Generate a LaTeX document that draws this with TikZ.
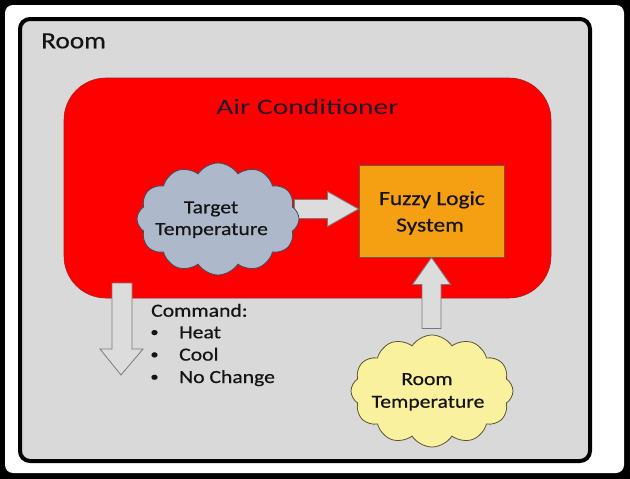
\documentclass[tikz,border=0pt]{standalone}
\usepackage{fontspec}
\setmainfont{Carlito}[FakeStretch=1.17,FakeBold=0.6]
\newfontfamily\acfont{Carlito}[FakeStretch=1.34]
\usetikzlibrary{shapes.symbols,calc}
\definecolor{roomgray}{HTML}{D9D9D9}
\definecolor{acred}{HTML}{FF0000}
\definecolor{acedge}{HTML}{A02020}
\definecolor{fuzzyorange}{HTML}{F4A012}
\definecolor{fuzzyedge}{HTML}{6E5A3A}
\definecolor{cloudblue}{HTML}{ADB9CA}
\definecolor{cloudblueedge}{HTML}{3F4C60}
\definecolor{cloudyellow}{HTML}{FAF19E}
\definecolor{cloudyellowedge}{HTML}{5A5530}
\definecolor{arrowgray}{HTML}{DCDCDC}
\definecolor{arrowedge}{HTML}{7A7A7A}
\definecolor{txtcol}{HTML}{141414}
\definecolor{actxt}{HTML}{1A1A30}
\begin{document}
\begin{tikzpicture}[x=1pt,y=-1pt,
  blk/.style={fill=arrowgray, draw=arrowedge, line width=0.8pt, line join=miter},
  cloudbox/.style={cloud, cloud puffs=12, cloud puff arc=115, aspect=1.45,
    minimum width=162pt, minimum height=112pt, inner sep=0pt, line width=0.8pt},
  txt/.style={font=\fontsize{18.5}{22}\selectfont, text=txtcol, inner sep=0pt},
  fztxt/.style={font=\fontsize{20}{24}\selectfont, text=txtcol, inner sep=0pt},
  bul/.style={font=\fontsize{14}{22}\selectfont, text=txtcol, inner sep=0pt},
  bigtxt/.style={font=\fontsize{23.3}{28}\selectfont, text=txtcol, inner sep=0pt},
  actext/.style={font=\acfont\fontsize{22}{26}\selectfont, text=actxt, inner sep=0pt}
]
\useasboundingbox (0,0) rectangle (630,479);
% frame
\fill[black] (0,0) rectangle (630,479);
\fill[white, rounded corners=8pt] (5,5) rectangle (624,473);
% room
\node[draw=black, line width=4pt, fill=roomgray, rounded corners=10pt,
      minimum width=570pt, minimum height=442pt, inner sep=0pt] (room) at (305,240) {};
\node[bigtxt, anchor=base west] (roomlbl) at (41,48.3) {Room};
% air conditioner
\node[draw=acedge, line width=0.6pt, fill=acred, rounded corners=42pt,
      minimum width=487pt, minimum height=220pt, inner sep=0pt] (ac) at (307.5,188) {};
\node[actext, anchor=base] (aclbl) at (307.5,114.3) {Air Conditioner};
% fuzzy logic system
\node[draw=fuzzyedge, line width=1pt, fill=fuzzyorange,
      minimum width=145pt, minimum height=92pt, inner sep=0pt] (fuzzy) at (431.5,211) {};
\node[fztxt, anchor=base] (fz1) at (432,205) {Fuzzy Logic};
\node[fztxt, anchor=base] (fz2) at (430,231.5) {System};
% arrow target -> fuzzy
\coordinate (ratip) at ($(fuzzy.west)+(0,-2)$);
\draw[blk] ($(ratip)+(-64,-9.5)$) -- ($(ratip)+(-31,-9.5)$) -- ($(ratip)+(-31,-17.5)$)
  -- (ratip) -- ($(ratip)+(-31,17.5)$) -- ($(ratip)+(-31,9.5)$) -- ($(ratip)+(-64,9.5)$) -- cycle;
% target temperature cloud
\node[cloudbox, fill=cloudblue, draw=cloudblueedge] (target) at (218,219) {};
\node[txt, anchor=base] (tg1) at (211,213.3) {Target};
\node[txt, anchor=base] (tg2) at (211.5,235) {Temperature};
% arrow room temperature -> fuzzy
\coordinate (uatip) at (fuzzy.south);
\draw[blk] (uatip) -- ($(uatip)+(19,27)$) -- ($(uatip)+(9.5,27)$) -- ($(uatip)+(9.5,71)$)
  -- ($(uatip)+(-9.5,71)$) -- ($(uatip)+(-9.5,27)$) -- ($(uatip)+(-19,27)$) -- cycle;
% room temperature cloud
\node[cloudbox, fill=cloudyellow, draw=cloudyellowedge] (roomt) at (432,391) {};
\node[txt, anchor=base] (rt1) at (427,385) {Room};
\node[txt, anchor=base] (rt2) at (428,407.7) {Temperature};
% command arrow
\coordinate (cmdstart) at (122,283);
\coordinate (cmdtip) at (121,375);
\draw[blk] ($(cmdstart)+(-10,0)$) -- ($(cmdstart)+(10,0)$) -- ($(cmdstart)+(10,66)$)
  -- ($(cmdstart)+(21,66)$) -- (cmdtip) -- ($(cmdstart)+(-22,66)$) -- ($(cmdstart)+(-10,66)$) -- cycle;
% command text
\node[txt, anchor=base west] (cmd) at (151,316.7) {Command:};
\node[bul, anchor=base] (b1) at (154.5,336.5) {•};
\node[txt, anchor=base west] (c1) at (179,338.3) {Heat};
\node[bul, anchor=base] (b2) at (154.5,358.8) {•};
\node[txt, anchor=base west] (c2) at (179,360.6) {Cool};
\node[bul, anchor=base] (b3) at (154.5,381.2) {•};
\node[txt, anchor=base west] (c3) at (179,383) {No Change};
\end{tikzpicture}
\end{document}
